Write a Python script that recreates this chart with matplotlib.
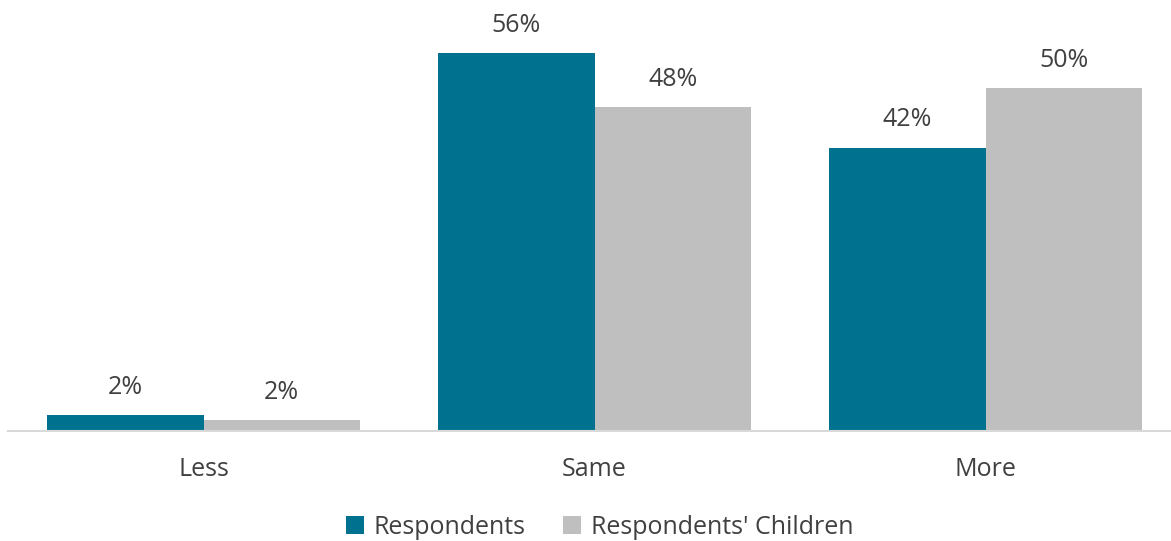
import matplotlib.pyplot as plt
import numpy as np

plt.rcParams['font.family'] = ['Open Sans', 'DejaVu Sans']

categories = ['Less', 'Same', 'More']
respondents = [2.4, 56, 42]
children = [1.6, 48, 50.8]
respondent_labels = ['2%', '56%', '42%']
children_labels = ['2%', '48%', '50%']
series_names = ['Respondents', "Respondents' Children"]
colors = ['#00728F', '#BFBFBF']
text_color = '#404040'

fig = plt.figure(figsize=(11.71, 5.41), dpi=100)
ax = fig.add_axes([8 / 1171, 110 / 541, 1173 / 1171, 405 / 541])

x = np.arange(len(categories))
w = 0.4
b1 = ax.bar(x - w / 2, respondents, w, color=colors[0], label=series_names[0])
b2 = ax.bar(x + w / 2, children, w, color=colors[1], label=series_names[1])

for bars, labels in [(b1, respondent_labels), (b2, children_labels)]:
    for bar, lab in zip(bars, labels):
        ax.annotate(lab, (bar.get_x() + bar.get_width() / 2, bar.get_height()),
                    xytext=(0, 11), textcoords='offset points', ha='center', va='bottom',
                    fontsize=18, color=text_color)

ax.set_xlim(-0.5, 2.5)
ax.set_ylim(0, 60)
ax.set_xticks(x)
ax.set_xticklabels(categories, fontsize=18, color=text_color)
ax.tick_params(axis='x', length=0, pad=19)
ax.set_yticks([])
for s in ['top', 'right', 'left']:
    ax.spines[s].set_visible(False)
ax.spines['bottom'].set_color('#D9D9D9')
ax.spines['bottom'].set_linewidth(1.5)

fig.legend(loc='center', bbox_to_anchor=(600 / 1171, 14 / 541), ncol=2, frameon=False,
           fontsize=18, labelcolor=text_color, handlelength=0.7, handleheight=0.7,
           handletextpad=0.4, columnspacing=1.5)

plt.savefig('out.png', dpi=100)
